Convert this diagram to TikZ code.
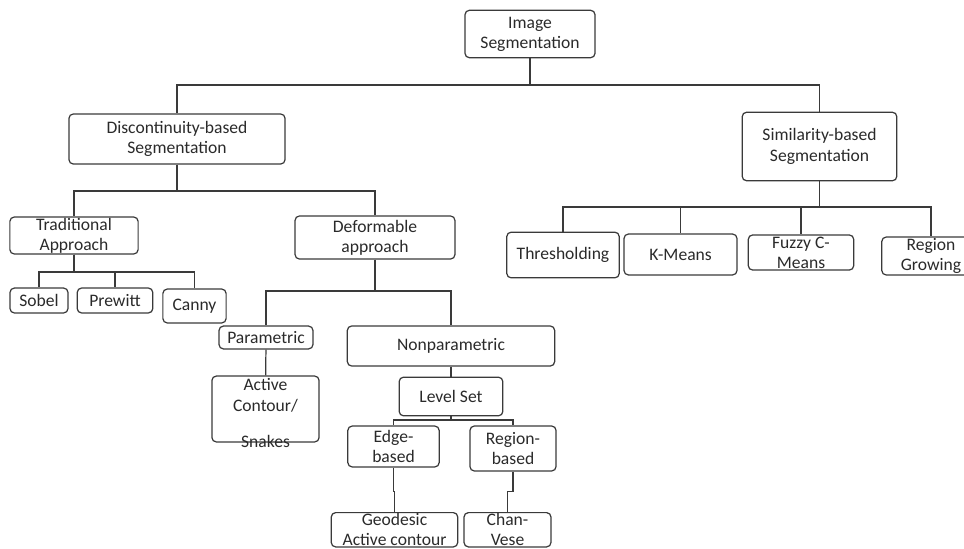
\documentclass[tikz,border=0pt]{standalone}
\usepackage{fontspec}
\setmainfont{Carlito}
\usepackage{tikz}
\definecolor{ln}{HTML}{3A3A3A}
\definecolor{tx}{HTML}{2A2A2A}
\tikzset{box/.style={draw=ln,line width=.7pt,rounded corners=2.5pt,align=center,
           inner xsep=2pt,inner ysep=.5pt,text=tx,font=\fontsize{10}{11.5}\selectfont},
         link/.style={draw=ln,line width=.7pt}}

\begin{document}
\begin{tikzpicture}[x=.02cm,y=-.02cm]
  \clip (0,0) rectangle (964,548);
  \node[box,minimum width=74pt,minimum height=27pt] (img) at (530,34) {Image\\Segmentation};
  \node[box,minimum width=123pt,minimum height=28.5pt] (disc) at (177,139) {Discontinuity-based\\Segmentation};
  \node[box,minimum width=88pt,minimum height=39pt] (sim) at (819.5,146.5) {Similarity-based\\Segmentation};
  \node[box,minimum width=73pt,minimum height=21pt] (trad) at (74,235.5) {Traditional\\Approach};
  \node[box,minimum width=91pt,minimum height=24.5pt] (defo) at (375,237.5) {Deformable\\approach};
  \node[box,minimum width=33pt,minimum height=14.2pt] (sobel) at (39,300.5) {Sobel};
  \node[box,minimum width=43pt,minimum height=14.2pt] (prewitt) at (115,300.5) {Prewitt};
  \node[box,minimum width=36pt,minimum height=19.3pt] (canny) at (194.5,306) {Canny};
  \node[box,minimum width=53.5pt,minimum height=13pt] (param) at (266,337.5) {Parametric};
  \node[box,minimum width=118pt,minimum height=22.8pt] (nonpar) at (451,346) {Nonparametric};
  \node[box,minimum width=61pt,minimum height=37.5pt] (active) at (265.5,409) {};
  \node[text=tx,align=center,font=\fontsize{10}{11.5}\selectfont] (activetxt) at (265.5,413) {Active\\Contour/\\[9pt]Snakes};
  \node[box,minimum width=59pt,minimum height=22pt] (level) at (451,396.5) {Level Set};
  \node[box,minimum width=52pt,minimum height=23.3pt] (edge) at (393.5,446.5) {Edge-\\based};
  \node[box,minimum width=49pt,minimum height=25.6pt] (region) at (513,448.5) {Region-\\based};
  \node[box,minimum width=72pt,anchor=north] (geo) at (394.5,512) {Geodesic\\Active contour};
  \node[box,minimum width=49.5pt,anchor=north] (chan) at (507.5,512) {Chan-\\Vese};
  \node[box,minimum width=64pt,minimum height=26pt] (thresh) at (563,255) {Thresholding};
  \node[box,minimum width=64.3pt,minimum height=23.3pt] (kmeans) at (680.5,254.5) {K-Means};
  \node[box,minimum width=60pt,minimum height=20pt] (fuzzy) at (801,252.5) {Fuzzy C-\\Means};
  \node[box,minimum width=56pt,minimum height=21.6pt] (regrow) at (931,256) {Region\\Growing};

  \coordinate (b0) at (0,85);
  \coordinate (b1) at (0,191);
  \coordinate (b2) at (0,207);
  \coordinate (b3) at (0,272);
  \coordinate (b4) at (0,291);
  \coordinate (b5) at (0,420);

  \foreach \n in {disc,sim}
    \draw[link] (img.south) -- (img.south |- b0) -| (\n.north);
  \foreach \n in {trad,defo}
    \draw[link] (disc.south) -- (disc.south |- b1) -| (\n.north);
  \foreach \n in {thresh,kmeans,fuzzy,regrow}
    \draw[link] (sim.south) -- (sim.south |- b2) -| (\n.north);
  \foreach \n in {sobel,prewitt,canny}
    \draw[link] (trad.south) -- (trad.south |- b3) -| (\n.north);
  \foreach \n in {param,nonpar}
    \draw[link] (defo.south) -- (defo.south |- b4) -| (\n.north);
  \foreach \n in {edge,region}
    \draw[link] (level.south) -- (level.south |- b5) -| (\n.north);
  \draw[link] (param) -- (active);
  \draw[link] (nonpar) -- (level);
  \draw[link] (edge.south) -- ++(0,24) -| (geo.north);
  \draw[link] (region.south) -- ++(0,20) -| (chan.north);
\end{tikzpicture}
\end{document}
